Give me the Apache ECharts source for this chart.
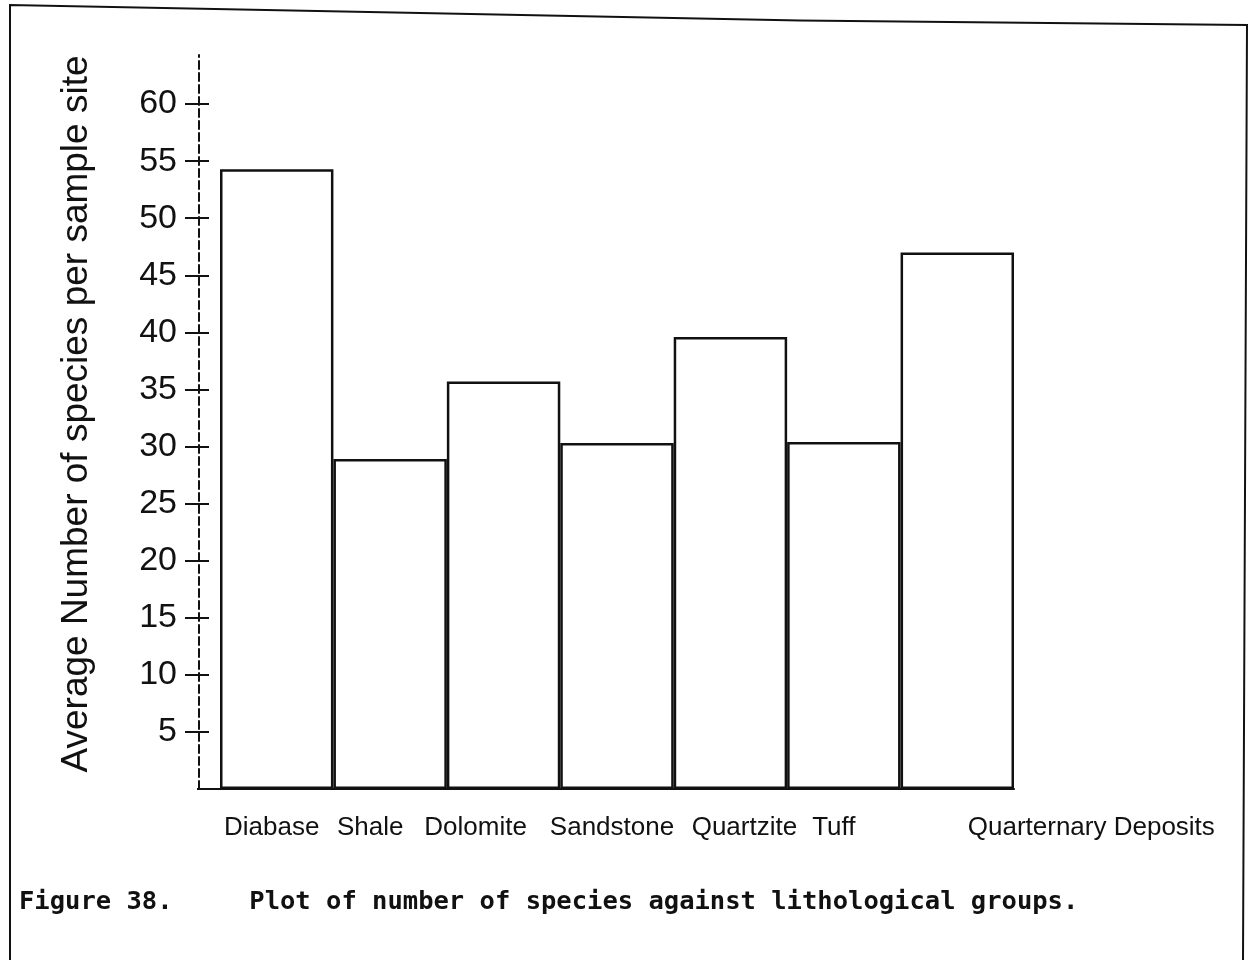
<!DOCTYPE html>
<html>
<head>
<meta charset="utf-8">
<script src="https://cdn.jsdelivr.net/npm/echarts@6/dist/echarts.min.js"></script>
<style>
  html, body { margin: 0; padding: 0; background: #fff; }
  #chart { width: 1250px; height: 960px; }
</style>
</head>
<body>
<div id="chart"></div>
<script>
// ---- data ----
const categories = ['Diabase', 'Shale', 'Dolomite', 'Sandstone', 'Quartzite', 'Tuff', 'Quarternary Deposits'];
const speciesCounts = [54.3, 28.9, 35.7, 30.3, 39.6, 30.4, 47.0];
const yTickValues = [5, 10, 15, 20, 25, 30, 35, 40, 45, 50, 55, 60];
const yAxisTitle = 'Average Number of species per sample site';
const captionText = 'Figure 38.     Plot of number of species against lithological groups.';

// ---- layout / style (not data) ----
const labelShift = [-5, -20, -28, -5, 14, -10, 134];
const ink = '#111';

const rich = {};
labelShift.forEach((s, i) => {
  rich['s' + i] = {
    fontSize: 26,
    fontFamily: 'Liberation Sans',
    color: ink,
    padding: s >= 0 ? [0, 0, 0, 2 * s] : [0, -2 * s, 0, 0]
  };
});

const chart = echarts.init(document.getElementById('chart'), null, { renderer: 'canvas' });

chart.setOption({
  backgroundColor: '#fff',
  animation: false,
  title: {
    text: captionText,
    left: 14,
    top: 884,
    textStyle: {
      fontFamily: 'DejaVu Sans Mono',
      fontWeight: 'bold',
      fontSize: 25.5,
      color: ink
    }
  },
  grid: { left: 220, right: 236, top: 55, bottom: 171 },
  xAxis: {
    type: 'category',
    data: categories,
    axisLine: { show: true, lineStyle: { color: ink, width: 2 } },
    axisTick: { show: false },
    axisLabel: {
      interval: 0,
      margin: 26,
      formatter: (v, i) => '{s' + i + '|' + v + '}',
      rich: rich
    },
    splitLine: { show: false }
  },
  yAxis: [
    {
      type: 'value',
      min: 0,
      max: 64.3,
      offset: 21,
      axisLine: { show: true, lineStyle: { color: ink, width: 2, type: [8, 4] } },
      axisTick: { show: true, inside: false, length: 14, customValues: yTickValues, lineStyle: { color: ink, width: 2 } },
      axisLabel: {
        customValues: yTickValues,
        margin: 22,
        fontSize: 34,
        fontFamily: 'Liberation Sans',
        color: ink
      },
      splitLine: { show: false },
      name: yAxisTitle,
      nameLocation: 'middle',
      nameRotate: 90,
      nameGap: 104,
      nameTextStyle: { fontSize: 37, fontFamily: 'Liberation Sans', color: ink, padding: [0, 0, 0, 16] }
    },
    {
      type: 'value',
      min: 0,
      max: 64.3,
      offset: 21,
      position: 'left',
      axisLine: { show: false },
      axisTick: { show: true, inside: true, length: 10, customValues: yTickValues, lineStyle: { color: ink, width: 2 } },
      axisLabel: { show: false },
      splitLine: { show: false }
    }
  ],
  series: [
    {
      type: 'bar',
      yAxisIndex: 0,
      data: speciesCounts,
      barCategoryGap: '0%',
      itemStyle: { color: '#fff', borderColor: ink, borderWidth: 2.5 }
    }
  ],
  graphic: [
    {
      type: 'polyline',
      shape: { points: [[10, 960], [10, 5], [420, 13], [800, 20.5], [1247, 25], [1243, 960]] },
      style: { fill: null, stroke: ink, lineWidth: 2 },
      silent: true
    },
    {
      type: 'line',
      shape: { x1: 197, y1: 789, x2: 221, y2: 789 },
      style: { stroke: ink, lineWidth: 2 },
      silent: true
    }
  ]
});
</script>
</body>
</html>
